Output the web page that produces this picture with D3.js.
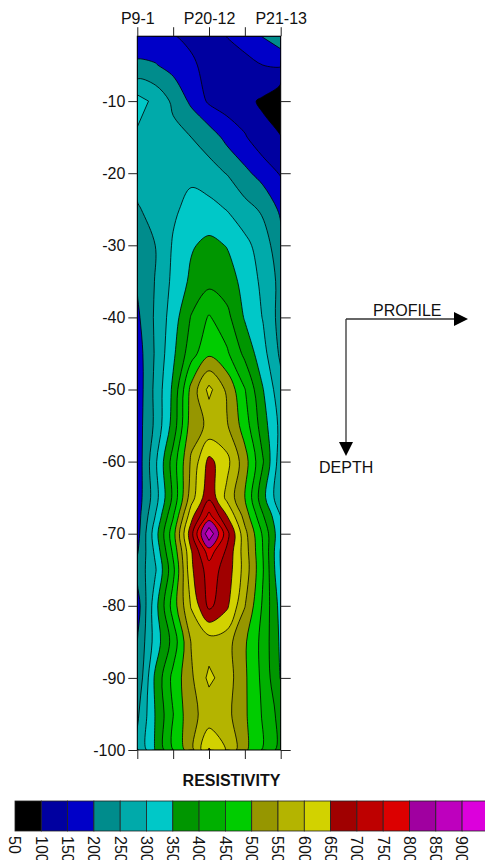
<!DOCTYPE html>
<html>
<head>
<meta charset="utf-8">
<script src="https://cdn.jsdelivr.net/npm/d3@7"></script>
<style>
  body { margin: 0; background: #fff; }
  svg { display: block; font-family: "Liberation Sans", Arial, sans-serif; }
</style>
</head>
<body>
<svg id="chart" width="485" height="860"></svg>
<script>
// grid columns along the profile (0 = P9-1, 2 = P20-12, 4 = P21-13)
const profileX = [0, 0.5, 1, 1.5, 2, 2.5, 3, 3.5, 4];
const profileTicks = [0, 1, 2, 3, 4];
const profileLabels = ["P9-1", "", "P20-12", "", "P21-13"];

// depth of each grid row (m)
const depths = [1, 5, 10, 15, 20, 25, 30, 35, 40, 45, 50, 55, 60, 65, 67.5, 70, 72.5, 75, 80, 85, 90, 95, 100];
const depthTicks = [-10, -20, -30, -40, -50, -60, -70, -80, -90, -100];

// resistivity, one row per depth
const resistivity = [
  [180, 165, 152, 140, 125, 151, 170, 202, 235],
  [205, 203, 182, 158, 135, 125, 135, 150, 155],
  [320, 288, 240, 190, 142, 125, 112,  93,  50],
  [292, 285, 265, 250, 228, 185, 155, 115, 102],
  [268, 276, 282, 290, 268, 248, 212, 180, 145],
  [245, 268, 292, 315, 318, 298, 268, 242, 190],
  [228, 250, 305, 345, 362, 348, 315, 275, 218],
  [205, 252, 312, 360, 385, 372, 335, 288, 235],
  [190, 257, 325, 403, 455, 415, 345, 298, 230],
  [175, 255, 340, 429, 490, 458, 387, 318, 240],
  [170, 262, 360, 515, 615, 540, 452, 353, 265],
  [175, 260, 370, 526, 560, 555, 476, 374, 285],
  [167, 289, 423, 557, 665, 615, 521, 405, 270],
  [172, 277, 411, 577, 690, 586, 500, 367, 260],
  [176, 300, 445, 630, 765, 650, 530, 405, 298],
  [180, 327, 480, 680, 895, 718, 566, 443, 310],
  [195, 310, 460, 645, 775, 690, 575, 450, 295],
  [215, 293, 436, 640, 725, 680, 580, 455, 298],
  [175, 330, 473, 604, 713, 660, 552, 443, 330],
  [200, 321, 419, 552, 575, 570, 507, 433, 340],
  [205, 360, 465, 541, 612, 575, 508, 437, 347],
  [240, 352, 449, 540, 565, 565, 508, 445, 380],
  [245, 352, 450, 530, 655, 595, 510, 445, 380]
];

// contour levels and their fills
const levels = [50, 100, 150, 200, 250, 300, 350, 400, 450, 500, 550, 600, 650, 700, 750, 800, 850, 900];
const levelColors = ["#000000", "#0000a0", "#0000c8", "#008c8c", "#00aaaa", "#00c8c8",
  "#009600", "#00b000", "#00cc00", "#969600", "#b4b400", "#d2d200",
  "#a00000", "#be0000", "#dc0000", "#a000a0", "#be00be", "#dc00dc"];

const svg = d3.select("#chart");
const font = "Liberation Sans, Arial, sans-serif";

const x = d3.scaleLinear().domain([0, 4]).range([137.3, 280.7]);
const y = d3.scaleLinear().domain([0, -100]).range([29, 750]);
const plotTop = y(-depths[0]), plotBottom = y(-depths[depths.length - 1]);

svg.append("defs").append("clipPath").attr("id", "plotClip")
  .append("rect")
  .attr("x", x(0)).attr("y", plotTop)
  .attr("width", x(4) - x(0)).attr("height", plotBottom - plotTop);

// contours
const nx = profileX.length, ny = depths.length;
const bands = d3.contours().size([nx, ny]).thresholds(levels)(resistivity.flat());

// grid coordinate (samples sit at i+0.5) -> pixel
function toPx(p) {
  const i = Math.max(0, Math.min(nx - 1, p[0] - 0.5));
  const j = Math.max(0, Math.min(ny - 1, p[1] - 0.5));
  const i0 = Math.min(Math.floor(i), nx - 2), j0 = Math.min(Math.floor(j), ny - 2);
  const xv = profileX[i0] + (profileX[i0 + 1] - profileX[i0]) * (i - i0);
  const dv = depths[j0] + (depths[j0 + 1] - depths[j0]) * (j - j0);
  return [x(xv), y(-dv)];
}

const smooth = d3.line().curve(d3.curveCatmullRomClosed.alpha(0.5));
const straight = d3.line().curve(d3.curveLinearClosed);

function ringPath(ring) {
  const raw = ring.slice(0, -1).map(toPx);
  const pts = raw.filter((p, i) => i === 0 || Math.hypot(p[0] - raw[i - 1][0], p[1] - raw[i - 1][1]) > 0.01);
  if (pts.length < 3) return "";
  const w = d3.max(pts, p => p[0]) - d3.min(pts, p => p[0]);
  const h = d3.max(pts, p => p[1]) - d3.min(pts, p => p[1]);
  return (Math.min(w, h) < 14 ? straight : smooth)(pts) || "";
}

const plot = svg.append("g").attr("clip-path", "url(#plotClip)");

plot.selectAll("path.band").data(bands).join("path")
  .attr("class", "band")
  .attr("d", d => d.coordinates.map(poly => poly.map(ringPath).join("")).join(""))
  .attr("fill", d => levelColors[levels.indexOf(d.value)])
  .attr("fill-rule", "evenodd")
  .attr("stroke", "#000")
  .attr("stroke-width", 0.8);

svg.append("rect")
  .attr("x", x(0)).attr("y", plotTop)
  .attr("width", x(4) - x(0)).attr("height", plotBottom - plotTop)
  .attr("fill", "none").attr("stroke", "#000").attr("stroke-width", 1);

// axes
function styleAxis(g) {
  g.select(".domain").remove();
  g.attr("font-family", font).attr("font-size", 16).attr("color", "#222");
  g.selectAll("text").attr("fill", "#111");
}

svg.append("g").attr("transform", `translate(${x(0)},0)`)
  .call(d3.axisLeft(y).tickValues(depthTicks).tickSize(9).tickPadding(3).tickFormat(d => String(d)))
  .call(styleAxis);

svg.append("g").attr("transform", `translate(${x(4)},0)`)
  .call(d3.axisRight(y).tickValues(depthTicks).tickSize(10).tickFormat(""))
  .call(styleAxis);

svg.append("g").attr("transform", `translate(0,${plotTop})`)
  .call(d3.axisTop(x).tickValues(profileTicks).tickSize(9).tickPadding(3).tickFormat((d, i) => profileLabels[i]))
  .call(styleAxis);

svg.append("g").attr("transform", `translate(0,${plotBottom})`)
  .call(d3.axisBottom(x).tickValues(profileTicks).tickSize(9).tickFormat(""))
  .call(styleAxis);

// direction arrows
const arrows = svg.append("g");
arrows.append("line").attr("x1", 346).attr("y1", 319).attr("x2", 455).attr("y2", 319)
  .attr("stroke", "#333").attr("stroke-width", 1.3);
arrows.append("line").attr("x1", 346).attr("y1", 319).attr("x2", 346).attr("y2", 443)
  .attr("stroke", "#333").attr("stroke-width", 1.3);
arrows.append("path").attr("d", "M454,312L468,319L454,326Z").attr("fill", "#000");
arrows.append("path").attr("d", "M339,442L353,442L346,456Z").attr("fill", "#000");
arrows.append("text").attr("x", 373).attr("y", 316).attr("font-size", 16).attr("font-family", font)
  .attr("fill", "#111").text("PROFILE");
arrows.append("text").attr("x", 319).attr("y", 473).attr("font-size", 16).attr("font-family", font)
  .attr("fill", "#111").text("DEPTH");

// colour bar
const cbx = d3.scaleLinear().domain([50, 950]).range([15, 488.4]);

svg.append("text")
  .attr("x", 231.5).attr("y", 786)
  .attr("text-anchor", "middle")
  .attr("font-family", font).attr("font-size", 16).attr("font-weight", "bold")
  .attr("fill", "#111")
  .text("RESISTIVITY");

const bar = svg.append("g");
bar.selectAll("rect").data(levels).join("rect")
  .attr("x", d => cbx(d)).attr("y", 801)
  .attr("width", d => cbx(d + 50) - cbx(d)).attr("height", 30)
  .attr("fill", (d, i) => levelColors[i])
  .attr("stroke", "#222").attr("stroke-width", 0.8);

bar.selectAll("text").data(levels).join("text")
  .attr("transform", d => `translate(${cbx(d)},836) rotate(90)`)
  .attr("dy", "0.35em")
  .attr("font-family", font).attr("font-size", 16)
  .attr("fill", "#111")
  .text(d => d);
</script>
</body>
</html>
